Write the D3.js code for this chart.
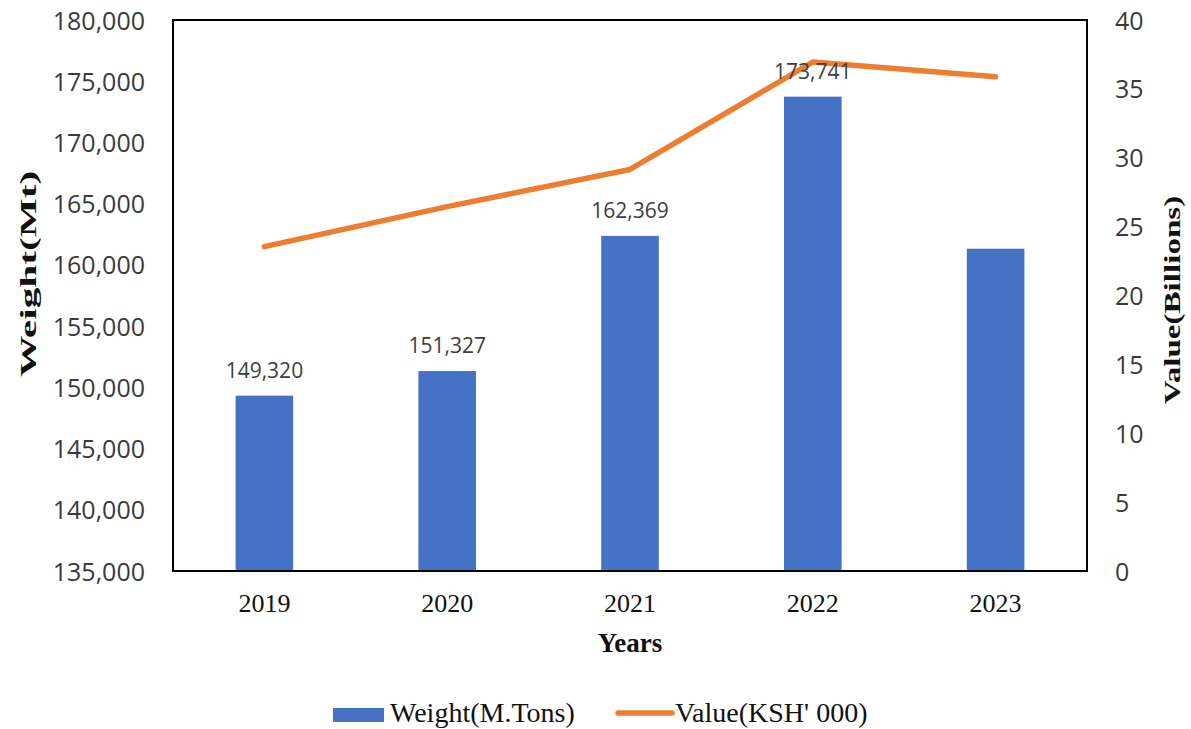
<!DOCTYPE html>
<html>
<head>
<meta charset="utf-8">
<script src="https://cdn.jsdelivr.net/npm/d3@7"></script>
<style>
  html, body { margin: 0; padding: 0; background: #fff; }
  svg { display: block; }
</style>
</head>
<body>
<svg id="chart" width="1191" height="729"></svg>
<script>
// Annual weight (bars, left axis) and value (line, right axis)
const years = ["2019", "2020", "2021", "2022", "2023"];
const weightTons = [149320, 151327, 162369, 173741, 161320];
const valueBillions = [23.55, 26.45, 29.15, 36.95, 35.88];
const weightLabels = ["149,320", "151,327", "162,369", "173,741", null];
const leftTicks = [135000, 140000, 145000, 150000, 155000, 160000, 165000, 170000, 175000, 180000];
const rightTicks = [0, 5, 10, 15, 20, 25, 30, 35, 40];

const svg = d3.select("#chart");
const m = { left: 173, right: 1087, top: 20, bottom: 571 };

const x = d3.scaleBand().domain(years).range([m.left, m.right]).padding(0);
const barW = x.bandwidth() * 0.315;
const yL = d3.scaleLinear().domain([135000, 180000]).range([m.bottom, m.top]);
const yR = d3.scaleLinear().domain([0, 40]).range([m.bottom, m.top]);

const sans = "'Open Sans', 'Noto Sans', sans-serif";
const serif = "'Liberation Serif', 'Times New Roman', serif";
const tickColor = "#3a3a3a";

// Bars
svg.append("g").selectAll("rect")
  .data(years)
  .join("rect")
  .attr("x", d => x(d) + x.bandwidth() / 2 - barW / 2)
  .attr("width", barW)
  .attr("y", (d, i) => yL(weightTons[i]))
  .attr("height", (d, i) => m.bottom - yL(weightTons[i]))
  .attr("fill", "#4472C4");

// Value line
const line = d3.line()
  .x((d, i) => x(years[i]) + x.bandwidth() / 2)
  .y(d => yR(d));
svg.append("path")
  .datum(valueBillions)
  .attr("d", line)
  .attr("fill", "none")
  .attr("stroke", "#ED7D31")
  .attr("stroke-width", 5.5)
  .attr("stroke-linecap", "round")
  .attr("stroke-linejoin", "round");

// Bar value labels
svg.append("g").selectAll("text")
  .data(years.filter((d, i) => weightLabels[i] !== null))
  .join("text")
  .attr("x", d => x(d) + x.bandwidth() / 2)
  .attr("y", d => yL(weightTons[years.indexOf(d)]) - 18)
  .attr("text-anchor", "middle")
  .attr("font-family", sans)
  .attr("font-size", 21)
  .attr("fill", "#404040")
  .text(d => weightLabels[years.indexOf(d)]);

// Frame
svg.append("rect")
  .attr("x", m.left).attr("y", m.top)
  .attr("width", m.right - m.left).attr("height", m.bottom - m.top)
  .attr("fill", "none").attr("stroke", "#000").attr("stroke-width", 2);

// Left axis
const leftAxis = svg.append("g")
  .attr("transform", `translate(${m.left},0)`)
  .call(d3.axisLeft(yL).tickValues(leftTicks).tickSize(0).tickPadding(28)
    .tickFormat(d3.format(",")));
leftAxis.select(".domain").remove();
leftAxis.selectAll("text")
  .attr("font-family", sans).attr("font-size", 25).attr("fill", tickColor)
  .attr("dy", "0.36em");

// Right axis
const rightAxis = svg.append("g")
  .attr("transform", `translate(${m.right},0)`)
  .call(d3.axisRight(yR).tickValues(rightTicks).tickSize(0).tickPadding(28));
rightAxis.select(".domain").remove();
rightAxis.selectAll("text")
  .attr("font-family", sans).attr("font-size", 25).attr("fill", tickColor)
  .attr("dy", "0.36em");

// Bottom axis
const bottomAxis = svg.append("g")
  .attr("transform", `translate(0,${m.bottom})`)
  .call(d3.axisBottom(x).tickSize(0).tickPadding(0));
bottomAxis.select(".domain").remove();
bottomAxis.selectAll("text")
  .attr("font-family", serif).attr("font-size", 26).attr("fill", "#111")
  .attr("dy", null).attr("y", 41);

// Axis titles
svg.append("text")
  .attr("x", 630).attr("y", 652)
  .attr("text-anchor", "middle")
  .attr("font-family", serif).attr("font-weight", "bold").attr("font-size", 27)
  .attr("fill", "#111")
  .text("Years");

// Vertical titles: tall, narrow lettering stretched along the reading direction
svg.append("text")
  .attr("transform", "translate(36,274) rotate(-90) scale(1.72,1)")
  .attr("text-anchor", "middle")
  .attr("font-family", serif).attr("font-weight", "bold").attr("font-size", 24)
  .attr("fill", "#111")
  .text("Weight(Mt)");

svg.append("text")
  .attr("transform", "translate(1180,300) rotate(-90) scale(1.38,1)")
  .attr("text-anchor", "middle")
  .attr("font-family", serif).attr("font-weight", "bold").attr("font-size", 24)
  .attr("fill", "#111")
  .text("Value(Billions)");

// Legend
const legend = svg.append("g");
legend.append("rect")
  .attr("x", 333).attr("y", 708).attr("width", 51).attr("height", 14)
  .attr("fill", "#4472C4");
legend.append("text")
  .attr("x", 390).attr("y", 722)
  .attr("font-family", serif).attr("font-size", 28).attr("fill", "#111")
  .text("Weight(M.Tons)");
legend.append("line")
  .attr("x1", 618).attr("x2", 672).attr("y1", 713).attr("y2", 713)
  .attr("stroke", "#ED7D31").attr("stroke-width", 5.5).attr("stroke-linecap", "round");
legend.append("text")
  .attr("x", 675).attr("y", 722)
  .attr("font-family", serif).attr("font-size", 28).attr("fill", "#111")
  .text("Value(KSH' 000)");
</script>
</body>
</html>
